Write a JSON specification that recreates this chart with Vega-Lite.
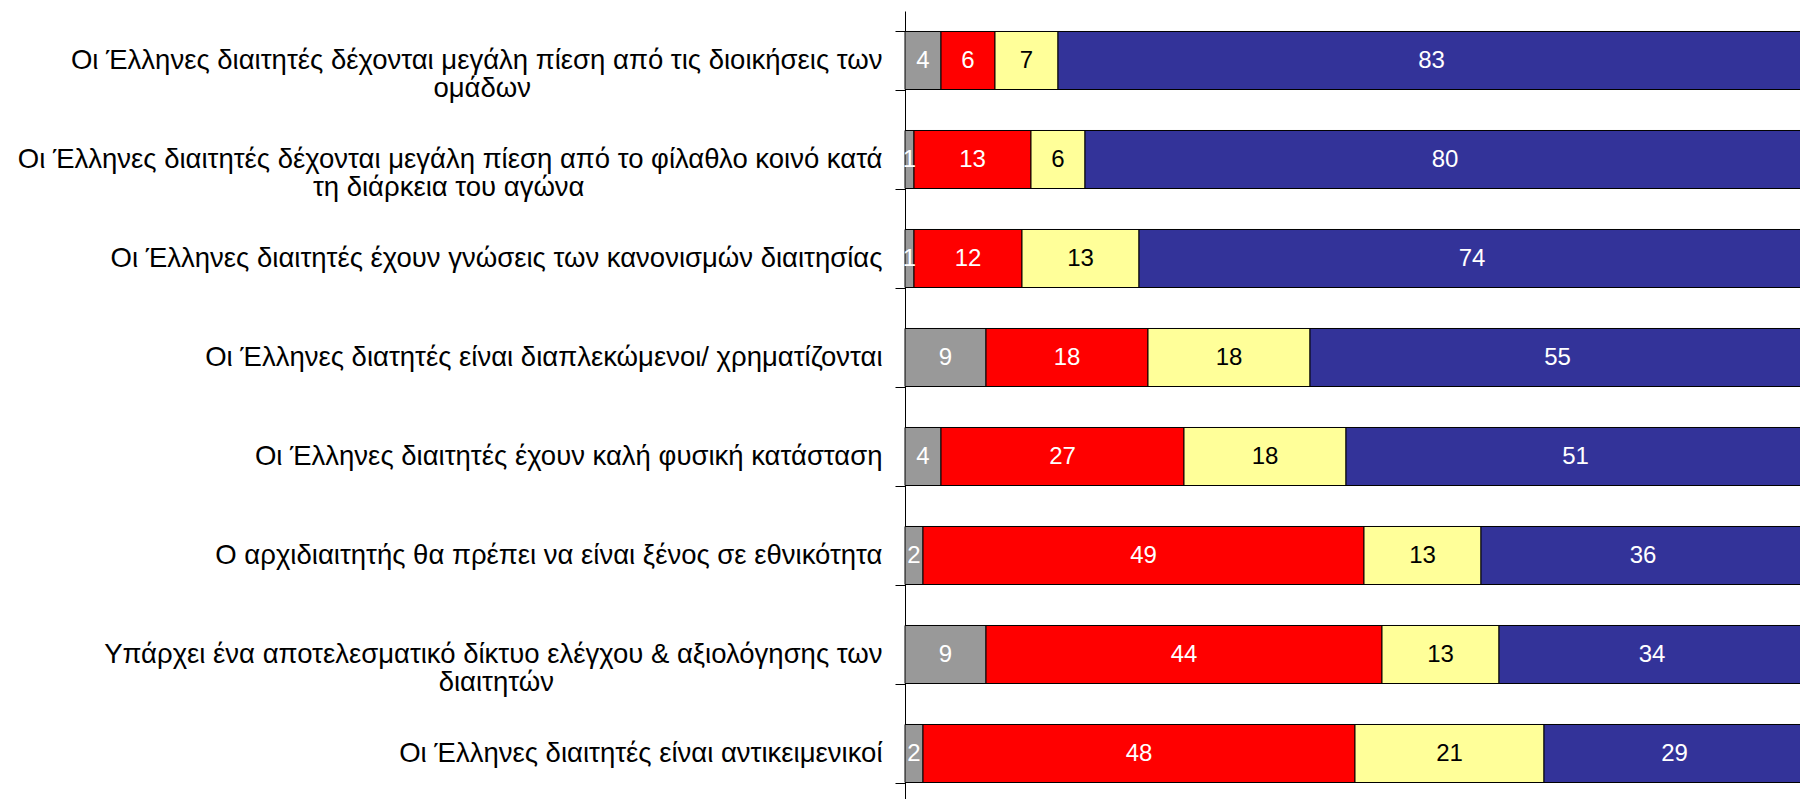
{
  "$schema": "https://vega.github.io/schema/vega-lite/v6.json",
  "width": 900,
  "height": 792,
  "autosize": {"type": "none"},
  "padding": {"left": 905, "top": 11, "right": 0, "bottom": 0},
  "background": "white",
  "config": {"view": {"stroke": null}, "font": "Liberation Sans"},
  "data": {
    "values": [
      {"q": "Οι Έλληνες διαιτητές δέχονται μεγάλη πίεση από τις διοικήσεις των|ομάδων", "cat": "ΔΓ/ΔΑ", "k": 1, "v": 4},
      {"q": "Οι Έλληνες διαιτητές δέχονται μεγάλη πίεση από τις διοικήσεις των|ομάδων", "cat": "Διαφωνώ", "k": 2, "v": 6},
      {"q": "Οι Έλληνες διαιτητές δέχονται μεγάλη πίεση από τις διοικήσεις των|ομάδων", "cat": "Ούτε συμφωνώ ούτε διαφωνώ", "k": 3, "v": 7},
      {"q": "Οι Έλληνες διαιτητές δέχονται μεγάλη πίεση από τις διοικήσεις των|ομάδων", "cat": "Συμφωνώ", "k": 4, "v": 83},
      {"q": "Οι Έλληνες διαιτητές δέχονται μεγάλη πίεση από το φίλαθλο κοινό κατά|τη διάρκεια του αγώνα", "cat": "ΔΓ/ΔΑ", "k": 1, "v": 1},
      {"q": "Οι Έλληνες διαιτητές δέχονται μεγάλη πίεση από το φίλαθλο κοινό κατά|τη διάρκεια του αγώνα", "cat": "Διαφωνώ", "k": 2, "v": 13},
      {"q": "Οι Έλληνες διαιτητές δέχονται μεγάλη πίεση από το φίλαθλο κοινό κατά|τη διάρκεια του αγώνα", "cat": "Ούτε συμφωνώ ούτε διαφωνώ", "k": 3, "v": 6},
      {"q": "Οι Έλληνες διαιτητές δέχονται μεγάλη πίεση από το φίλαθλο κοινό κατά|τη διάρκεια του αγώνα", "cat": "Συμφωνώ", "k": 4, "v": 80},
      {"q": "Οι Έλληνες διαιτητές έχουν γνώσεις των κανονισμών διαιτησίας", "cat": "ΔΓ/ΔΑ", "k": 1, "v": 1},
      {"q": "Οι Έλληνες διαιτητές έχουν γνώσεις των κανονισμών διαιτησίας", "cat": "Διαφωνώ", "k": 2, "v": 12},
      {"q": "Οι Έλληνες διαιτητές έχουν γνώσεις των κανονισμών διαιτησίας", "cat": "Ούτε συμφωνώ ούτε διαφωνώ", "k": 3, "v": 13},
      {"q": "Οι Έλληνες διαιτητές έχουν γνώσεις των κανονισμών διαιτησίας", "cat": "Συμφωνώ", "k": 4, "v": 74},
      {"q": "Οι Έλληνες διατητές είναι διαπλεκώμενοι/ χρηματίζονται", "cat": "ΔΓ/ΔΑ", "k": 1, "v": 9},
      {"q": "Οι Έλληνες διατητές είναι διαπλεκώμενοι/ χρηματίζονται", "cat": "Διαφωνώ", "k": 2, "v": 18},
      {"q": "Οι Έλληνες διατητές είναι διαπλεκώμενοι/ χρηματίζονται", "cat": "Ούτε συμφωνώ ούτε διαφωνώ", "k": 3, "v": 18},
      {"q": "Οι Έλληνες διατητές είναι διαπλεκώμενοι/ χρηματίζονται", "cat": "Συμφωνώ", "k": 4, "v": 55},
      {"q": "Οι Έλληνες διαιτητές έχουν καλή φυσική κατάσταση", "cat": "ΔΓ/ΔΑ", "k": 1, "v": 4},
      {"q": "Οι Έλληνες διαιτητές έχουν καλή φυσική κατάσταση", "cat": "Διαφωνώ", "k": 2, "v": 27},
      {"q": "Οι Έλληνες διαιτητές έχουν καλή φυσική κατάσταση", "cat": "Ούτε συμφωνώ ούτε διαφωνώ", "k": 3, "v": 18},
      {"q": "Οι Έλληνες διαιτητές έχουν καλή φυσική κατάσταση", "cat": "Συμφωνώ", "k": 4, "v": 51},
      {"q": "Ο αρχιδιαιτητής θα πρέπει να είναι ξένος σε εθνικότητα", "cat": "ΔΓ/ΔΑ", "k": 1, "v": 2},
      {"q": "Ο αρχιδιαιτητής θα πρέπει να είναι ξένος σε εθνικότητα", "cat": "Διαφωνώ", "k": 2, "v": 49},
      {"q": "Ο αρχιδιαιτητής θα πρέπει να είναι ξένος σε εθνικότητα", "cat": "Ούτε συμφωνώ ούτε διαφωνώ", "k": 3, "v": 13},
      {"q": "Ο αρχιδιαιτητής θα πρέπει να είναι ξένος σε εθνικότητα", "cat": "Συμφωνώ", "k": 4, "v": 36},
      {"q": "Υπάρχει ένα αποτελεσματικό δίκτυο ελέγχου & αξιολόγησης των|διαιτητών", "cat": "ΔΓ/ΔΑ", "k": 1, "v": 9},
      {"q": "Υπάρχει ένα αποτελεσματικό δίκτυο ελέγχου & αξιολόγησης των|διαιτητών", "cat": "Διαφωνώ", "k": 2, "v": 44},
      {"q": "Υπάρχει ένα αποτελεσματικό δίκτυο ελέγχου & αξιολόγησης των|διαιτητών", "cat": "Ούτε συμφωνώ ούτε διαφωνώ", "k": 3, "v": 13},
      {"q": "Υπάρχει ένα αποτελεσματικό δίκτυο ελέγχου & αξιολόγησης των|διαιτητών", "cat": "Συμφωνώ", "k": 4, "v": 34},
      {"q": "Οι Έλληνες διαιτητές είναι αντικειμενικοί", "cat": "ΔΓ/ΔΑ", "k": 1, "v": 2},
      {"q": "Οι Έλληνες διαιτητές είναι αντικειμενικοί", "cat": "Διαφωνώ", "k": 2, "v": 48},
      {"q": "Οι Έλληνες διαιτητές είναι αντικειμενικοί", "cat": "Ούτε συμφωνώ ούτε διαφωνώ", "k": 3, "v": 21},
      {"q": "Οι Έλληνες διαιτητές είναι αντικειμενικοί", "cat": "Συμφωνώ", "k": 4, "v": 29}
    ]
  },
  "transform": [
    {"stack": "v", "groupby": ["q"], "sort": [{"field": "k", "order": "ascending"}], "as": ["v0", "v1"]},
    {"calculate": "(datum.v0 + datum.v1) / 2", "as": "mid"}
  ],
  "encoding": {
    "y": {
      "field": "q",
      "type": "nominal",
      "sort": null,
      "title": null,
      "scale": {"paddingInner": 0.414, "paddingOuter": 0.207},
      "axis": {
        "domainColor": "black",
        "domainWidth": 1,
        "tickColor": "black",
        "tickWidth": 1,
        "tickSize": 10,
        "tickBand": "extent",
        "labelFont": "Liberation Sans",
        "labelFontSize": 27.5,
        "labelColor": "black",
        "labelLimit": 0,
        "labelLineHeight": 27.5,
        "labelPadding": 13,
        "labelExpr": "indexof(datum.label, '|') < 0 ? datum.label : [split(datum.label, '|')[0], split(datum.label, '|')[1] + pad('', indexof(datum.label, 'διοικήσεις') >= 0 ? 46 : (indexof(datum.label, 'φίλαθλο') >= 0 ? 39 : 43), '\u00a0') + '\u200b']"
      }
    }
  },
  "layer": [
    {
      "mark": {"type": "bar", "stroke": "black", "strokeWidth": 1},
      "encoding": {
        "x": {"field": "v0", "type": "quantitative", "scale": {"domain": [0, 100]}, "axis": null},
        "x2": {"field": "v1"},
        "color": {
          "field": "cat",
          "type": "nominal",
          "scale": {
            "domain": ["ΔΓ/ΔΑ", "Διαφωνώ", "Ούτε συμφωνώ ούτε διαφωνώ", "Συμφωνώ"],
            "range": ["#999999", "#FF0000", "#FFFF99", "#333399"]
          },
          "legend": null
        }
      }
    },
    {
      "mark": {"type": "text", "font": "Liberation Sans", "fontSize": 24, "align": "center", "baseline": "middle"},
      "encoding": {
        "x": {"field": "mid", "type": "quantitative"},
        "text": {"field": "v", "type": "quantitative"},
        "color": {
          "condition": {"test": "datum.cat === 'Ούτε συμφωνώ ούτε διαφωνώ'", "value": "black"},
          "value": "white"
        }
      }
    }
  ]
}
